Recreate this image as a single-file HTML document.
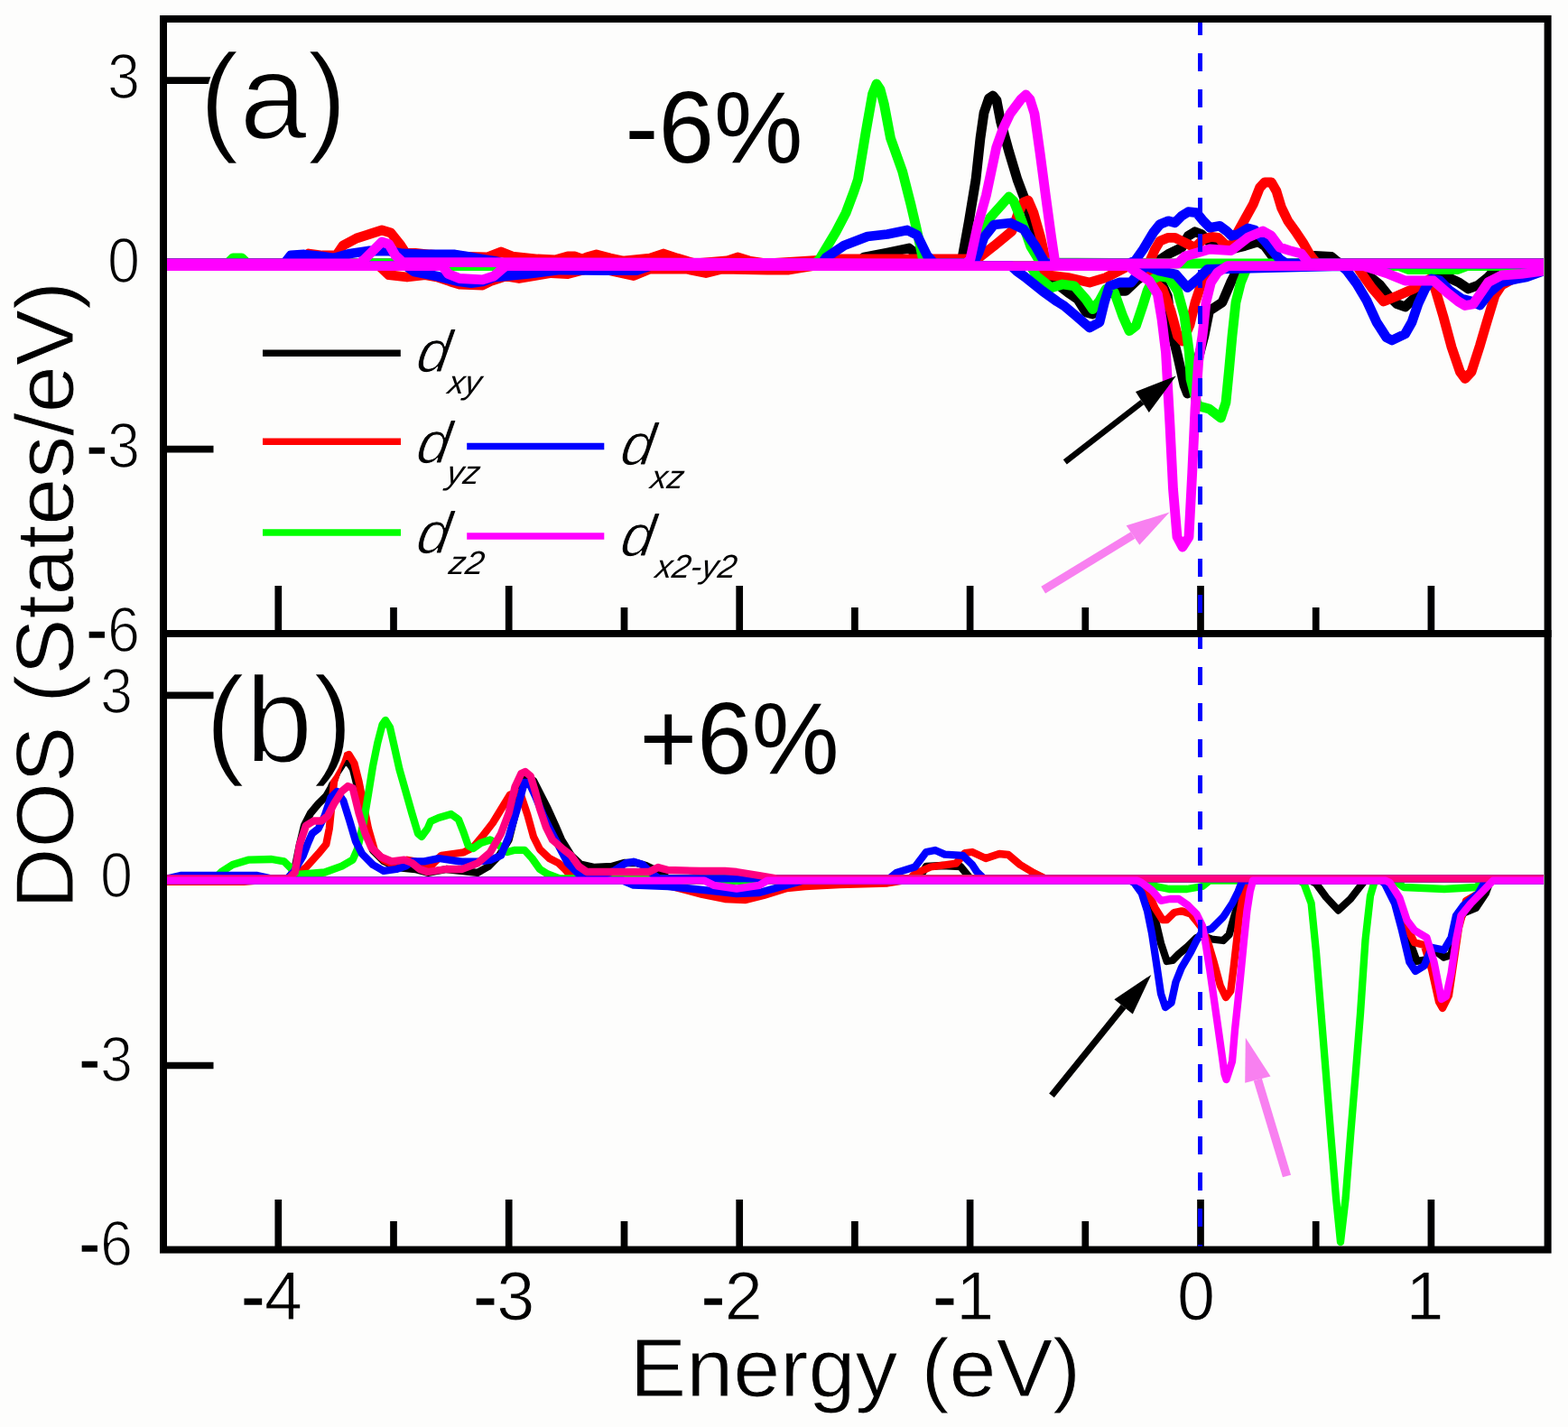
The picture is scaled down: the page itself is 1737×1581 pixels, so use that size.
<!DOCTYPE html><html><head><meta charset="utf-8"><title>DOS</title><style>html,body{margin:0;padding:0;background:#fdfdfc;}svg{display:block;}text{font-family:"Liberation Sans",Arial,sans-serif;}</style></head><body>
<svg width="1737" height="1581" viewBox="0 0 1737 1581">
<rect width="1737" height="1581" fill="#fdfdfc"/>
<defs><clipPath id="ca"><rect x="185" y="25" width="1525" height="673"/></clipPath><clipPath id="cb"><rect x="185" y="706" width="1525" height="675"/></clipPath></defs>
<g stroke="#000" stroke-width="7.7"><line x1="308.3" y1="698" x2="308.3" y2="649"/><line x1="308.3" y1="1381" x2="308.3" y2="1329"/><line x1="563.7" y1="698" x2="563.7" y2="649"/><line x1="563.7" y1="1381" x2="563.7" y2="1329"/><line x1="819.2" y1="698" x2="819.2" y2="649"/><line x1="819.2" y1="1381" x2="819.2" y2="1329"/><line x1="1074.6" y1="698" x2="1074.6" y2="649"/><line x1="1074.6" y1="1381" x2="1074.6" y2="1329"/><line x1="1330" y1="698" x2="1330" y2="649"/><line x1="1330" y1="1381" x2="1330" y2="1329"/><line x1="1585.4" y1="698" x2="1585.4" y2="649"/><line x1="1585.4" y1="1381" x2="1585.4" y2="1329"/><line x1="436" y1="698" x2="436" y2="673"/><line x1="436" y1="1381" x2="436" y2="1353"/><line x1="691.5" y1="698" x2="691.5" y2="673"/><line x1="691.5" y1="1381" x2="691.5" y2="1353"/><line x1="946.9" y1="698" x2="946.9" y2="673"/><line x1="946.9" y1="1381" x2="946.9" y2="1353"/><line x1="1202.3" y1="698" x2="1202.3" y2="673"/><line x1="1202.3" y1="1381" x2="1202.3" y2="1353"/><line x1="1457.7" y1="698" x2="1457.7" y2="673"/><line x1="1457.7" y1="1381" x2="1457.7" y2="1353"/><line x1="185" y1="89.2" x2="236.5" y2="89.2"/><line x1="185" y1="293.3" x2="236.5" y2="293.3"/><line x1="185" y1="497.6" x2="236.5" y2="497.6"/><line x1="185" y1="770.3" x2="236.5" y2="770.3"/><line x1="185" y1="975" x2="236.5" y2="975"/><line x1="185" y1="1180.5" x2="236.5" y2="1180.5"/></g>
<g clip-path="url(#ca)"><g fill="none" stroke-width="10.8" stroke-linejoin="round" stroke-linecap="round">
<polyline points="185,294.6 1150,294.6 1159,309.5 1173.7,316.8 1183,324 1194,331.6 1203,346 1210.5,348 1218,341 1225,326 1236,322.4 1247,322.4 1260,310 1270,303 1284,307.6 1293.4,328 1299,372 1304.5,394 1312,427 1315.5,436 1322,418 1328,395 1334,372 1339.5,344.5 1354,335 1363.4,313 1369,302 1375,294.6 1505,294.6 1514,303.4 1529,316 1538,327.4 1547.4,336.6 1556.6,340 1566,331 1575,322 1584,311 1599,305 1615.5,312.6 1626.6,320 1637.6,316 1648.7,307 1660,294.6 1710,294.6" stroke="#000000"/>
<polyline points="185,292 950,292 957,285 983,280 1007,275 1016,282 1025,292 1062,292 1066,286 1073.4,245 1081,199 1086,153 1090,125 1095.5,109 1100,106 1104,111 1108.5,134.5 1117.6,167.6 1127,199 1136,223 1145,254 1156,282 1165,292 1278,292 1283,289 1294,281.7 1309,274.3 1316.3,261.4 1323.7,256.8 1331,259.5 1338.4,266.9 1349.5,274.3 1364.2,276.1 1379,272.4 1393.7,267.8 1401,272.4 1412,287.2 1420,292 1450,292 1456.3,283.5 1474.8,284.4 1480.3,289 1485,292 1710,292" stroke="#000000"/>
<polyline points="185,294.6 420,294.6 430.8,304.7 451,307 471,304.7 484,307 499,312 509,315 534.6,316 544.7,311 560,306 575,308.5 590,306 610.6,302.5 629,303.5 650,298 672,299 701.8,305.5 720,298 760,298 782,302.5 800,298 850,299 874,299 900,294.6 1148,294.6 1155,304 1183,307.6 1207,313 1225,307.6 1250,294.6 1270,294.6 1277,311 1288,320.5 1297,344.5 1304.5,372 1310,378 1318,360 1324,335 1330,317 1336,305 1342,294.6 1503,294.6 1508.7,303.4 1519.7,319 1532.6,334 1547.4,328 1565.8,320 1575,314.5 1584,309 1589.8,320 1599,351 1608,384.5 1617.4,412 1623,419.5 1630,412 1639.5,382.6 1647,357 1656,327.4 1663.4,316 1676,309 1690,294.6 1710,294.6" stroke="#ff0000"/>
<polyline points="185,292 330,292 342,281 357,283 372.5,283 380,272 395,264 410.5,259 423,255 433,258 443,270.5 448.5,279 476,282 501.7,284 539.7,285 555,279 567.5,284 595.4,287 615,288 629,284 637,284 645,287 650,285 660.7,282 676,286 690,289 720,286 735,281 750,286 770,292 805,289 817,285 830,289 850,292 930,287 1016,287 1042,287 1064,287 1082.6,287 1101,272.6 1121,256 1128,236 1134,224 1139,222 1145,236 1152.7,263 1158,287 1164,292 1270,292 1274,289 1279.5,276.2 1285,267 1294.2,263.3 1301.6,263.3 1309,267 1316.3,270.6 1323.7,274.3 1333,265.1 1342,262.3 1349.5,263.3 1356.9,270.6 1364.2,274.3 1369.8,259.5 1379,243 1388.2,226.4 1395.5,208 1401,202 1408.4,202 1414,211.7 1419.5,230 1426.8,244.8 1436,257.7 1443.4,268.7 1450.8,281.6 1456.3,289 1460,292 1710,292" stroke="#ff0000"/>
<polyline points="185,294.6 1142,294.6 1148,305.8 1164.5,318.7 1177,315 1190,316.8 1203,331.6 1210.5,342.6 1218,333.4 1225,320.5 1234.5,324 1243.7,350 1251,366.6 1258.4,361 1265.8,339 1271,322.4 1277,309.5 1284,305.8 1295,307.6 1304.5,322.4 1312,350 1317.4,390.5 1319,420 1326.6,449.5 1339.5,453 1352.4,463 1358,445.8 1361.6,409 1365,372 1369,335 1374.5,313 1382,294.6 1550,294.6 1560,298.5 1615,298.5 1625,294.6 1710,294.6" stroke="#00ff00"/>
<polyline points="185,292 252,292 258,286 268,286 274,292 903,292 908,287 926,257 937,236 946,212 950.4,199 959,147 966.6,104 971,93 975,99 979.5,116 986.5,153 999.7,190 1009,226.6 1015.4,254 1022,285 1026,292 1075,292 1079,287 1097,241 1117.6,218 1123,223 1132,245 1141.6,272.6 1152.7,291 1318,292 1330,292 1370,292 1410,292 1425,292 1710,292" stroke="#00ff00"/>
<polyline points="185,294.6 450,294.6 458.6,301 484,306 509,312 522,313.6 534.6,312 547,307 585,303.4 620,299 672,299.5 706,299.5 720,294.6 1120,294.6 1126,300 1135,306.5 1155,322.5 1171,334 1179,339 1192,350 1207,363 1218,357 1223.4,335 1229,317 1240,313 1253,313 1262,302 1270,294.6 1284,300 1302.6,304 1315.5,318.7 1328.4,307.6 1337.6,298.4 1486,294.6 1492,299.7 1503,314.5 1514,333 1525,357 1536,374 1542,377 1556.6,370 1564,357 1571,336.6 1578.7,320 1586,309 1595,310.8 1606,322 1619,331 1630,334 1639.5,338 1650.5,323.7 1663.4,312.6 1680,309 1691,307 1710,300 1710,294.6" stroke="#0000ff"/>
<polyline points="185,292 315,292 322,283 337,282 357,284 370,286 387.7,281 408,278 430,278 446,281 471,282 504,282 517,284 534,287 547,289 560,292 910,292 915,285.5 935,272 961,262 983,259.5 1005,255 1016,260.5 1027,283 1035,292 1078,292 1084,280 1090,263 1101,249 1119.5,247 1134,254 1147,272.6 1158,292 1250,292 1257.4,289 1266.6,276 1277.6,257.7 1285,248.5 1294.2,244.8 1301.6,246.7 1309,239.3 1316.3,234.7 1325.5,235.6 1333,244.8 1340.3,252.2 1351.3,250.3 1358.7,255.8 1364.2,261.3 1371.6,259.4 1382.6,253 1390,254.9 1401,266.9 1410,278 1417.7,287.2 1425,292 1710,292" stroke="#0000ff"/>
<polyline points="185,294.6 490,294.6 496.6,303.4 509,308.5 534.6,309.8 547,306 560,294.6 1250,294.6 1256.6,300 1273,311 1282.4,326 1287,353.7 1291.5,390.5 1296,471 1299.5,541.7 1304,594.8 1310,606 1317,594.8 1320.7,524 1324,453 1327.7,400 1332,372 1336,335 1341.4,313 1348.7,302 1360,294.6 1505,294.6 1510.5,294.6 1538,303.4 1556.6,311 1575,311 1588,311 1602.6,323.7 1615.5,334 1623,338.5 1632,337 1639.5,326 1648.7,312.6 1663.4,305 1685.5,303.4 1710,300 1710,294.6" stroke="#ff00ff"/>
<polyline points="185,292 398,292 403,288 413,278 423,268 430.8,270.5 438,283 446,290.5 1070,292 1075,287 1083,250 1092.4,216.6 1103.7,163.5 1111,143 1119,126 1131,110 1136.5,105 1141,110 1146,126 1152.3,171 1158.4,217 1164.5,262 1169,292 1305,292 1312.6,284 1340,276 1364,277.6 1382.6,263 1399,256 1408,261 1417.6,274 1428.7,277.6 1441.6,281 1450,292 1710,292" stroke="#ff00ff"/>
</g></g>
<g clip-path="url(#cb)"><g fill="none" stroke-width="8.3" stroke-linejoin="round" stroke-linecap="round">
<polyline points="185,975.6 1266,975.6 1273,993 1279.5,1017.5 1286,1045 1292.6,1065 1299,1064 1305.8,1057 1315.6,1048.8 1325.5,1039 1332,1037 1342,1040.5 1355,1042 1361.6,1035.6 1368,1012.6 1375,993 1379.7,975.6 1452,975.6 1458,979 1469,994 1482.5,1008.5 1496,996 1507,981.8 1512,975.6 1536,975.6 1546,1000 1558,1030 1564,1049.7 1569.6,1065 1580.5,1063 1588.6,1052.5 1599.5,1060.6 1607.6,1058 1613,1028 1621,1011.7 1635,1006 1645.7,990 1651,975.6 1710,975.6" stroke="#000000"/>
<polyline points="185,973.4 320,973.4 326.8,961 332,935.4 337,914.7 344,901 352.7,890.5 361.3,882 366.5,873 373.4,856 380,846 385,843 391,852 396,872 401,900 406,922 413,942 425,954 440,961 460,963 473.8,966.8 494.5,963 529,966.8 541,960 553,947.8 563.6,930.5 570.5,903 579,865 584.4,863 591,865 598,878.7 606.8,896 615.4,915 622,930.5 632.7,947.8 643,957.5 658.6,961 677.6,960 691.4,956 705,956 715.6,959 730,966 740,973.4 1018,973.4 1026,960 1044,959 1064,960 1075,973.4 1710,973.4" stroke="#000000"/>
<polyline points="185,975.6 185,976.8 270,976.8 285,975.6 700,975.6 740,981 778,991 803,996 826,997 846,992 871.7,984 892,982 930,980 983,978.5 1000,975.6 1266,975.6 1273,991 1279.5,1006 1287.7,1019 1292.6,1019 1300.8,1011 1309,1009.3 1319,1012.6 1327,1022.5 1332,1029 1338.6,1045.5 1345,1067 1351.8,1092 1358,1105 1363.3,1098 1366.6,1071.8 1370,1042 1373,1014 1378,986.3 1381.4,975.6 1535,975.6 1550,1000 1558.7,1028 1567,1044.3 1577.7,1047 1586,1074 1594,1110 1598,1117 1605,1103 1610,1068.8 1616,1028 1624,998 1637.6,990 1648.5,975.6 1710,975.6" stroke="#ff0000"/>
<polyline points="185,973.4 325,973.4 330,968 339,961 352.7,945.8 361.3,935.4 364.8,918 370,866 375,849 380.3,839 386.4,836 392.4,845.6 397.6,866 402.8,892 408,918 415,942.3 425,952.7 439,959.6 451,952.7 459.8,954.4 473.6,963 489,947.8 513.5,944.4 524,939 534,927 546,911.5 556.7,894 565,880.5 574,878 577.4,882 584.4,903 591,927 598,941 608.5,951 619,956.4 625.8,963 635,973.4 1008,973.4 1013.6,968 1031,960.5 1059,956.7 1064,951 1069,945 1077,944 1092,951 1107,946 1117,947 1130,958 1145,967 1158,973.4 1710,973.4" stroke="#ff0000"/>
<polyline points="185,975.6 1272,975.6 1280,982 1295,985 1315,985 1332,982 1340,975.6 1440,975.6 1444.5,979 1452.6,1000.8 1458,1055 1463.5,1123 1469,1191 1474.4,1259 1480,1327 1485,1376 1490.7,1327 1496,1259 1501.6,1191 1507,1123 1512.5,1041.6 1518,992.6 1523,975.6 1545,975.6 1555,983 1600,985 1635,983 1646,975.6 1710,975.6" stroke="#00ff00"/>
<polyline points="185,973.4 238,973.4 245.6,965.7 257.7,958 275,952.7 301,952 314.7,954.4 323.4,963 330,969 359.6,966.5 378.6,959.6 390.7,952.7 396,940.6 402.8,911 408,880 413,849 418.3,823 423.5,803 427,798 432,806 437,828 442.5,852.5 449.4,876.7 456.3,901 463,923.4 467,927 473.6,918 477,910 486,906 499.7,902 508,908 513.5,922 518.7,937 524,940 532.5,934 543,930.5 549.8,934 562,944 570.5,941.8 581,941.8 589.5,951 598,963 606.8,968.5 620,973.4 1710,973.4" stroke="#00ff00"/>
<polyline points="185,975.6 690,975.6 701.8,980.6 740,982 778,985.9 816,990 841,989 866.6,982 890,975.6 1252,975.6 1256.4,978 1264.7,989.6 1271,1009.3 1276,1034 1281,1067 1286,1101 1291,1116 1297.5,1111 1302.5,1088 1309,1071.8 1319,1055 1325.5,1042 1332,1032 1342,1029 1355,1016 1365,1001 1371.5,988 1376.4,975.6 1530,975.6 1534,979 1545,1000.8 1553,1030.7 1561.4,1066 1568,1076 1577.7,1070 1586,1049.7 1599.5,1052.5 1607.6,1038.9 1613,1014.4 1621,1003.5 1637.6,990 1645.7,975.6 1710,975.6" stroke="#0000ff"/>
<polyline points="185,973.4 200,970 285,970 300,973.4 318,973.4 325,966.5 335.4,949 340.6,935.4 345.8,923.4 352.7,918 359.6,904 366.5,883.6 373.4,877 380.3,887 387.3,909.5 394,932 401,945.8 413,958 425,964.8 439,963 449.4,959.6 456.3,954.4 470,954.4 486,951 511.8,954.7 529,954.7 543,953 555,947.8 563.6,927 572,899.4 581,867 586,867 593,882 601.6,903 610,920 619,937.4 629,956.4 641.3,968.5 660,972 680,965 693,956.4 701.8,954.7 712,958 720,966 730,973.4 985,973.4 993,966.9 1013.6,960.5 1026,944 1036,942 1046.5,946.6 1066.7,947.9 1077,958 1082,965.6 1090,973.4 1710,973.4" stroke="#0000ff"/>
<polyline points="185,973.4 320,973.4 326.8,966.5 332,935.4 339,914.7 347.5,909.5 356,909.5 363,904 370,890.5 378.6,876.7 385.5,871 390.7,873 397.6,901 404.5,923.4 411.4,939 421.8,949.3 434,954.4 447.7,952.7 456.3,956 465,963 473.6,966 494,963 511.8,963 529,956.4 543,944.4 555,923.6 563.6,901 570.5,871.8 577.4,857 581.8,855 587.8,860 593,877 598,896 605,916.7 612,930.5 624,941 632.7,947.8 641.3,960 650,966 719,966 729,961 740,964 775.5,965 803,965 816,966 841,970 860,973.4 1710,973.4" stroke="#ff0080"/>
<polyline points="185,975.6 780,975.6 790.6,980.8 816,984.6 841,980.8 850,975.6 1260,975.6 1264.7,978 1276,986.3 1286,997.8 1296,996 1305.8,996 1315.6,1002.7 1325.5,1012.6 1332,1025.8 1335,1042 1340.3,1075 1345,1108 1348.5,1132.6 1353.4,1167 1356.5,1190 1358.5,1196 1360.5,1190 1365,1176 1368,1140.8 1371.5,1108 1374.8,1075 1378,1042 1381.4,1009.3 1384.7,988 1388,975.6 1535,975.6 1539.7,978 1550.5,995 1558.7,1019.8 1567,1030.7 1580.5,1038.9 1588.6,1066 1596.8,1107 1602,1104 1607.6,1078 1613,1041.6 1618.5,1014.4 1629.4,1000.8 1643,987 1654,975.6 1710,975.6" stroke="#ff00ff"/>
</g></g>
<line x1="1329.5" y1="19" x2="1329.5" y2="1381" stroke="#0000ff" stroke-width="5" stroke-dasharray="20 20"/>
<g stroke="#000" stroke-width="8" fill="none">
<rect x="181" y="21" width="1533.6" height="1363.6"/>
<line x1="177" y1="702" x2="1718.6" y2="702"/>
</g>
<g fill="#000"><text transform="translate(155,109.2) scale(0.91,1)" font-size="71.2" text-anchor="end" stroke="#fdfdfc" stroke-width="1.7">3</text><text transform="translate(155,313.3) scale(0.91,1)" font-size="71.2" text-anchor="end" stroke="#fdfdfc" stroke-width="1.7">0</text><text transform="translate(155,517.6) scale(0.91,1)" font-size="71.2" text-anchor="end" stroke="#fdfdfc" stroke-width="1.7"><tspan stroke="#000" stroke-width="1.6">-</tspan><tspan dx="1">3</tspan></text><text transform="translate(155,722) scale(0.91,1)" font-size="71.2" text-anchor="end" stroke="#fdfdfc" stroke-width="1.7"><tspan stroke="#000" stroke-width="1.6">-</tspan><tspan dx="1">6</tspan></text><text transform="translate(147,789.8) scale(0.91,1)" font-size="71.2" text-anchor="end" stroke="#fdfdfc" stroke-width="1.7">3</text><text transform="translate(147,993.5) scale(0.91,1)" font-size="71.2" text-anchor="end" stroke="#fdfdfc" stroke-width="1.7">0</text><text transform="translate(147,1197.5) scale(0.91,1)" font-size="71.2" text-anchor="end" stroke="#fdfdfc" stroke-width="1.7"><tspan stroke="#000" stroke-width="1.6">-</tspan><tspan dx="1">3</tspan></text><text transform="translate(147,1401.6) scale(0.91,1)" font-size="71.2" text-anchor="end" stroke="#fdfdfc" stroke-width="1.7"><tspan stroke="#000" stroke-width="1.6">-</tspan><tspan dx="1">6</tspan></text><text x="301.3" y="1462" font-size="75.5" text-anchor="middle" stroke="#fdfdfc" stroke-width="1"><tspan stroke="#000" stroke-width="1.3">-</tspan><tspan dx="0">4</tspan></text><text x="558.7" y="1462" font-size="75.5" text-anchor="middle" stroke="#fdfdfc" stroke-width="1"><tspan stroke="#000" stroke-width="1.3">-</tspan><tspan dx="0">3</tspan></text><text x="811.2" y="1462" font-size="75.5" text-anchor="middle" stroke="#fdfdfc" stroke-width="1"><tspan stroke="#000" stroke-width="1.3">-</tspan><tspan dx="0">2</tspan></text><text x="1067.6" y="1462" font-size="75.5" text-anchor="middle" stroke="#fdfdfc" stroke-width="1"><tspan stroke="#000" stroke-width="1.3">-</tspan><tspan dx="0">1</tspan></text><text x="1325" y="1462" font-size="75.5" text-anchor="middle" stroke="#fdfdfc" stroke-width="1">0</text><text x="1578.4" y="1462" font-size="75.5" text-anchor="middle" stroke="#fdfdfc" stroke-width="1">1</text></g>
<text x="697.8" y="1547" font-size="91" textLength="499.5" lengthAdjust="spacingAndGlyphs" stroke="#fdfdfc" stroke-width="1">Energy (eV)</text>
<text transform="translate(81,1007) rotate(-90)" x="0" y="0" font-size="91" textLength="695" lengthAdjust="spacingAndGlyphs" stroke="#fdfdfc" stroke-width="1">DOS (States/eV)</text>
<text x="220.5" y="154" font-size="134.5" stroke="#fdfdfc" stroke-width="2.4">(a)</text>
<text x="692.6" y="180" font-size="114" textLength="196.7" lengthAdjust="spacingAndGlyphs">-6%</text>
<text x="227" y="844" font-size="134.5" stroke="#fdfdfc" stroke-width="2.4">(b)</text>
<text x="708.6" y="857" font-size="113.5" textLength="220.9" lengthAdjust="spacingAndGlyphs">+6%</text>
<g stroke-width="7.5"><line x1="291" y1="391.2" x2="443.8" y2="391.2" stroke="#000"/><line x1="291" y1="489.3" x2="444" y2="489.3" stroke="#f00"/><line x1="291" y1="590.1" x2="444" y2="590.1" stroke="#0f0"/><line x1="517.2" y1="494.4" x2="669.3" y2="494.4" stroke="#00f"/><line x1="517.2" y1="594" x2="669.3" y2="594" stroke="#f0f"/></g>
<g fill="#000"><text transform="translate(459.5,411.5) skewX(-9)" font-size="65.5" font-style="italic" stroke="#fdfdfc" stroke-width="1.0">d</text><text transform="translate(495,436) skewX(-9)" font-size="36.5" font-style="italic">xy</text><text transform="translate(459.5,512.5) skewX(-9)" font-size="65.5" font-style="italic" stroke="#fdfdfc" stroke-width="1.0">d</text><text transform="translate(493.5,536.2) skewX(-9)" font-size="36.5" font-style="italic">yz</text><text transform="translate(459.5,612.5) skewX(-9)" font-size="65.5" font-style="italic" stroke="#fdfdfc" stroke-width="1.0">d</text><text transform="translate(496,636.3) skewX(-9)" font-size="36.5" font-style="italic">z2</text><text transform="translate(685.5,515) skewX(-9)" font-size="65.5" font-style="italic" stroke="#fdfdfc" stroke-width="1.0">d</text><text transform="translate(719.5,541) skewX(-9)" font-size="36.5" font-style="italic">xz</text><text transform="translate(685.5,615.5) skewX(-9)" font-size="65.5" font-style="italic" stroke="#fdfdfc" stroke-width="1.0">d</text><text transform="translate(725,640) skewX(-9)" font-size="36.5" font-style="italic">x2-y2</text></g>
<line x1="1179.8" y1="511.9" x2="1265.4" y2="445.5" stroke="#000" stroke-width="6.5" stroke-linecap="butt"/><polygon points="1302.8,416.6 1258,434 1272.8,457" fill="#000"/>
<line x1="1155.7" y1="653.7" x2="1255" y2="593" stroke="#f880f0" stroke-width="9" stroke-linecap="butt"/><polygon points="1295.6,567.6 1247.7,582.3 1262.3,603.8" fill="#f880f0"/>
<line x1="1165" y1="1213.8" x2="1244.6" y2="1115.3" stroke="#000" stroke-width="7.3" stroke-linecap="butt"/><polygon points="1275.3,1079.9 1234.4,1107.3 1254.8,1123.4" fill="#000"/>
<line x1="1425.5" y1="1303" x2="1393.3" y2="1196.1" stroke="#f880f0" stroke-width="9.5" stroke-linecap="butt"/><polygon points="1379.8,1149.8 1379.2,1199.7 1407.5,1192.5" fill="#f880f0"/>
</svg></body></html>
